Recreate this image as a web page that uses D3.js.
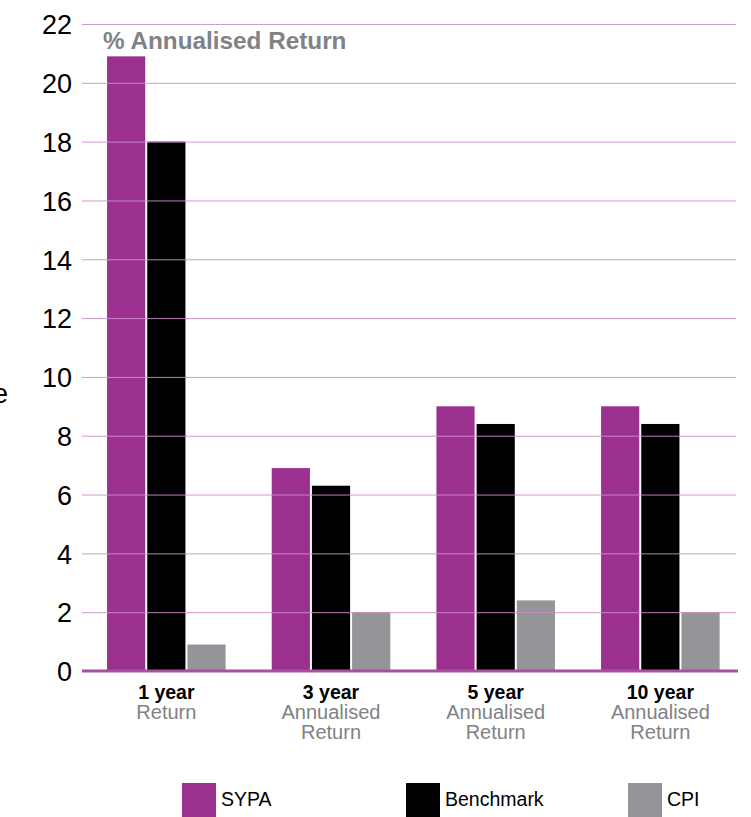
<!DOCTYPE html>
<html>
<head>
<meta charset="utf-8">
<script src="https://cdn.jsdelivr.net/npm/d3@7"></script>
<style>
  html, body { margin: 0; padding: 0; background: #fff; }
  svg { display: block; font-family: "Liberation Sans", Arial, Helvetica, sans-serif; }
</style>
</head>
<body>
<svg id="chart" width="751" height="817"></svg>
<script>
// Return periods and their captions
const periods = ["1 year", "3 year", "5 year", "10 year"];
const periodCaptions = [["Return"], ["Annualised", "Return"], ["Annualised", "Return"], ["Annualised", "Return"]];

// Series shown in each period
const seriesNames = ["SYPA", "Benchmark", "CPI"];
const sypaValues = [20.9, 6.9, 9.0, 9.0];
const benchmarkValues = [18.0, 6.3, 8.4, 8.4];
const cpiValues = [0.9, 2.0, 2.4, 2.0];

// Value axis ticks
const yTicks = [0, 2, 4, 6, 8, 10, 12, 14, 16, 18, 20, 22];

const colors = { SYPA: "#9b308e", Benchmark: "#000000", CPI: "#939598" };
const seriesValues = { SYPA: sypaValues, Benchmark: benchmarkValues, CPI: cpiValues };

const svg = d3.select("#chart");

const plotLeft = 82, plotRight = 736;
const y = d3.scaleLinear().domain([0, 22]).range([671, 24]);
const x = d3.scaleBand().domain(periods).range([84, 742.7]).paddingInner(0.28).paddingOuter(0.14);
const xs = d3.scaleBand().domain(seriesNames).range([0, x.bandwidth()]).paddingInner(0.05);

// Y tick labels
const yAxis = svg.append("g")
  .attr("transform", `translate(${plotLeft},0)`)
  .call(d3.axisLeft(y).tickValues(yTicks).tickSize(0).tickPadding(10).tickFormat(d3.format("d")));
yAxis.select(".domain").remove();
yAxis.selectAll("text")
  .attr("font-family", "'Liberation Sans', Arial, sans-serif")
  .attr("font-size", 27)
  .attr("fill", "#000")
  .attr("dy", "0.36em");

// Axis title, mostly outside the left edge
svg.append("text")
  .attr("x", 8).attr("y", 403)
  .attr("text-anchor", "end")
  .attr("font-size", 28)
  .attr("fill", "#000")
  .text("Percentage");

// Bars
const rows = [];
periods.forEach((p, i) => {
  seriesNames.forEach(s => rows.push({ period: p, series: s, value: seriesValues[s][i] }));
});
svg.append("g").selectAll("rect")
  .data(rows)
  .join("rect")
  .attr("x", d => x(d.period) + xs(d.series))
  .attr("width", xs.bandwidth())
  .attr("y", d => y(d.value))
  .attr("height", d => y(0) - y(d.value))
  .attr("fill", d => colors[d.series]);

// Horizontal gridlines, drawn above the bars
const grid = svg.append("g")
  .attr("transform", `translate(${plotLeft},0)`)
  .call(d3.axisRight(y).tickValues(yTicks.filter(t => t > 0)).tickSize(plotRight - plotLeft).tickFormat(""));
grid.select(".domain").remove();
grid.selectAll("line").attr("stroke", "#cc8fcd").attr("stroke-width", 1).attr("opacity", 0.9);

// Baseline
svg.append("line")
  .attr("x1", plotLeft).attr("x2", 738)
  .attr("y1", y(0)).attr("y2", y(0))
  .attr("stroke", "#a9519f").attr("stroke-width", 3);

// Chart title inside the plot
svg.append("text")
  .attr("x", 103).attr("y", 49)
  .attr("font-size", 24.3).attr("font-weight", "bold")
  .attr("fill", "#808285")
  .text("% Annualised Return");

// Period labels
const labels = svg.append("g").selectAll("g")
  .data(periods)
  .join("g")
  .attr("transform", d => `translate(${x(d) + x.bandwidth() / 2},0)`);
labels.append("text")
  .attr("y", 699)
  .attr("text-anchor", "middle")
  .attr("font-size", 19.5).attr("font-weight", "bold").attr("fill", "#000")
  .text(d => d);
labels.each(function (d, i) {
  d3.select(this).selectAll("text.cap")
    .data(periodCaptions[i])
    .join("text")
    .attr("class", "cap")
    .attr("y", (c, j) => 719 + j * 20)
    .attr("text-anchor", "middle")
    .attr("font-size", 20).attr("fill", "#808285")
    .text(c => c);
});

// Legend
const legendX = [182, 406, 628];
const legend = svg.append("g").selectAll("g")
  .data(seriesNames)
  .join("g")
  .attr("transform", (d, i) => `translate(${legendX[i]},783)`);
legend.append("rect")
  .attr("width", 34).attr("height", 34)
  .attr("fill", d => colors[d]);
legend.append("text")
  .attr("x", 39).attr("y", 23)
  .attr("font-size", 19.5).attr("fill", "#000")
  .text(d => d);
</script>
</body>
</html>
